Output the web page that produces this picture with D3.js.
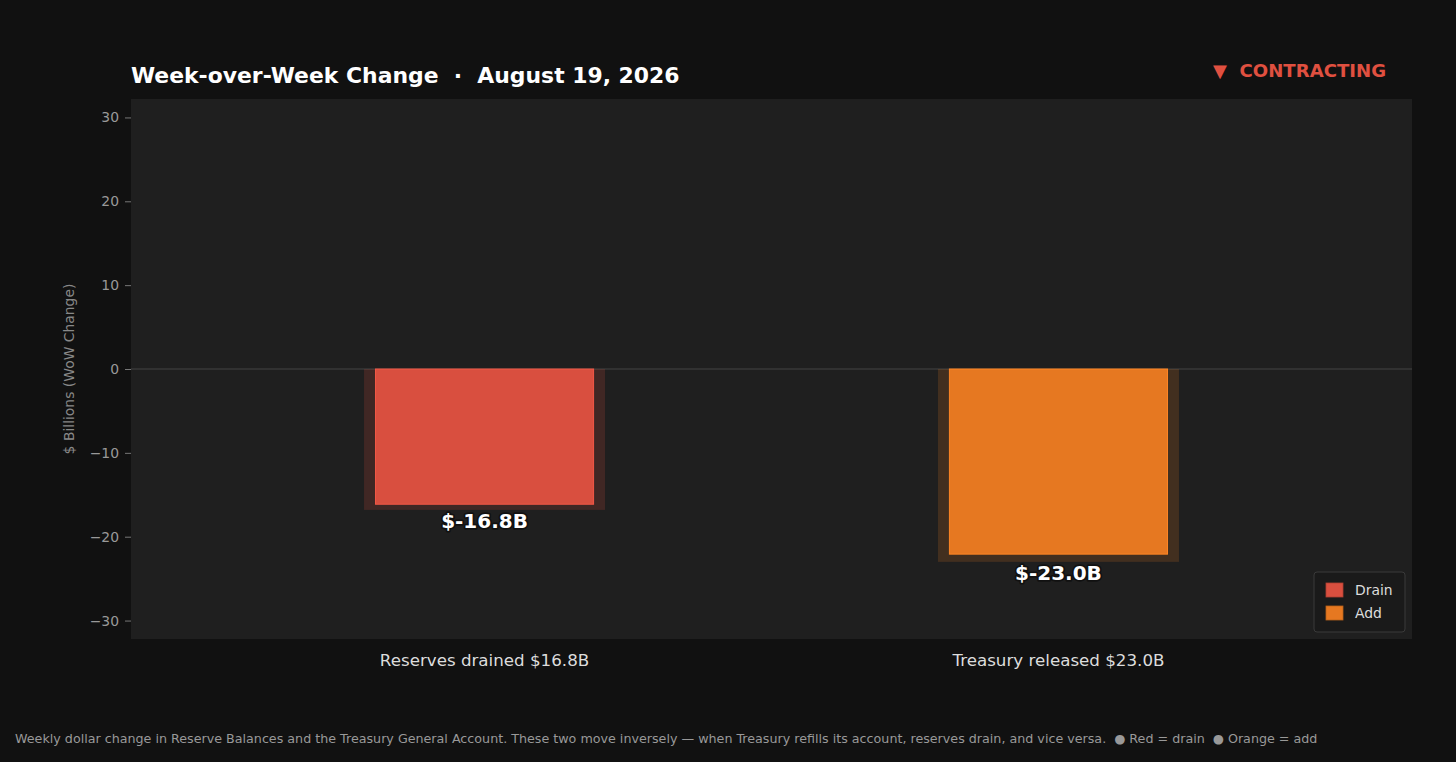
<!DOCTYPE html>
<html><head><meta charset="utf-8">
<script src="https://cdn.jsdelivr.net/npm/d3@7"></script>
<style>
html,body{margin:0;padding:0;background:#111111;}
svg{display:block;}
text{font-family:"DejaVu Sans",sans-serif;}
</style></head>
<body>
<svg id="chart" width="1456" height="762"></svg>
<script>
const categories = ["Reserves drained $16.8B", "Treasury released $23.0B"];
const values = [-16.8, -23.0];
const valueLabels = ["$-16.8B", "$-23.0B"];
const seriesColors = ["#d94f3f", "#e67821"];
const legendLabels = ["Drain", "Add"];
const yTicks = [-30, -20, -10, 0, 10, 20, 30];
const yDomain = [-32.2, 32.2];
const title = "Week-over-Week Change  ·  August 19, 2026";
const status = "▼  CONTRACTING";
const yLabel = "$ Billions (WoW Change)";
const footer = "Weekly dollar change in Reserve Balances and the Treasury General Account. These two move inversely — when Treasury refills its account, reserves drain, and vice versa.  ● Red = drain  ● Orange = add";

const svg = d3.select("#chart");
const L = 131, R = 1412, T = 99, B = 639;

const x = d3.scalePoint().domain(categories).range([L, R]).padding(0.616);
const y = d3.scaleLinear().domain(yDomain).range([B, T]);
const step = x.step();

svg.append("rect").attr("x", L).attr("y", T).attr("width", R - L).attr("height", B - T).attr("fill", "#1f1f1f");

// zero line
svg.append("line").attr("x1", L).attr("x2", R).attr("y1", y(0)).attr("y2", y(0))
  .attr("stroke", "#444").attr("stroke-width", 1.2);

// y axis
const yAxis = d3.axisLeft(y).tickValues(yTicks).tickSize(6).tickPadding(6).tickFormat(d3.format("d"));
const ga = svg.append("g").attr("transform", `translate(${L},0)`).call(yAxis);
ga.select(".domain").remove();
ga.selectAll(".tick line").attr("stroke", "#777");
ga.selectAll(".tick text").attr("fill", "#999").attr("font-size", "13.9px").attr("font-family", "DejaVu Sans");

svg.append("text").attr("transform", `translate(74,${(T + B) / 2}) rotate(-90)`)
  .attr("text-anchor", "middle").attr("fill", "#888").attr("font-size", "13.9px").text(yLabel);

// bars
const data = categories.map((c, i) => ({c, v: values[i], col: seriesColors[i], lab: valueLabels[i]}));
const gb = svg.append("g");
gb.selectAll("rect.shadow").data(data).join("rect").attr("class", "shadow")
  .attr("x", d => x(d.c) - step * 0.21).attr("width", step * 0.42)
  .attr("y", d => y(Math.max(0, d.v))).attr("height", d => Math.abs(y(d.v) - y(0)))
  .attr("fill", d => d.col).attr("opacity", 0.18);
gb.selectAll("rect.bar").data(data).join("rect").attr("class", "bar")
  .attr("x", d => x(d.c) - step * 0.19).attr("width", step * 0.38)
  .attr("y", d => y(Math.max(0, d.v * 0.96))).attr("height", d => Math.abs(y(d.v * 0.96) - y(0)))
  .attr("fill", d => d.col).attr("stroke", d => d3.color(d.col).brighter(0.3)).attr("stroke-width", 1);

gb.selectAll("text.vl").data(data).join("text").attr("class", "vl")
  .attr("x", d => x(d.c)).attr("y", d => y(d.v) + 18)
  .attr("text-anchor", "middle").attr("fill", "#ffffff").attr("font-weight", "bold").attr("font-size", "20px")
  .attr("stroke", "#111").attr("stroke-width", 3.5).attr("paint-order", "stroke").attr("stroke-linejoin", "round")
  .text(d => d.lab);

// x labels
svg.selectAll("text.xl").data(categories).join("text").attr("class", "xl")
  .attr("x", d => x(d)).attr("y", 666).attr("text-anchor", "middle")
  .attr("fill", "#dddddd").attr("font-size", "16.7px").text(d => d);

// title
svg.append("text").attr("x", 131).attr("y", 83).attr("fill", "#ffffff").attr("font-weight", "bold")
  .attr("font-size", "21.9px").style("white-space", "pre").text(title);
svg.append("text").attr("x", 1386).attr("y", 77).attr("text-anchor", "end").attr("fill", "#e05040")
  .attr("font-weight", "bold").attr("font-size", "18.1px").style("white-space", "pre").text(status);

// legend
const lg = svg.append("g");
lg.append("rect").attr("x", 1314).attr("y", 572).attr("width", 91).attr("height", 60).attr("rx", 3)
  .attr("fill", "#1a1a1a").attr("stroke", "#3a3a3a").attr("stroke-width", 1);
legendLabels.forEach((l, i) => {
  lg.append("rect").attr("x", 1326).attr("y", 583 + i * 23).attr("width", 17).attr("height", 14)
    .attr("fill", seriesColors[i]).attr("stroke", d3.color(seriesColors[i]).darker(0.6)).attr("stroke-width", 0.8);
  lg.append("text").attr("x", 1355).attr("y", 595 + i * 23).attr("fill", "#dddddd").attr("font-size", "13.9px").text(l);
});

// footer
svg.append("text").attr("x", 15).attr("y", 742.5).attr("fill", "#999").attr("font-size", "12.7px")
  .style("white-space", "pre").text(footer);
</script>
</body></html>
